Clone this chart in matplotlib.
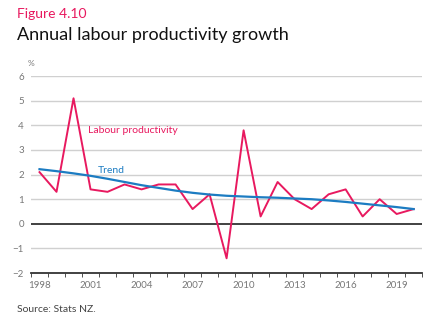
import matplotlib.pyplot as plt
import numpy as np

years = list(range(1998, 2021))
productivity = [2.1, 1.3, 5.1, 1.4, 1.3, 1.6, 1.4, 1.6, 1.6, 0.6, 1.2, -1.4,
                3.8, 0.3, 1.7, 1.0, 0.6, 1.2, 1.4, 0.3, 1.0, 0.4, 0.6]
trend = [2.22, 2.14, 2.05, 1.95, 1.83, 1.70, 1.57, 1.46, 1.35, 1.26, 1.19, 1.14,
         1.11, 1.08, 1.06, 1.03, 1.00, 0.95, 0.89, 0.82, 0.75, 0.68, 0.60]
label_years = [1998, 2001, 2004, 2007, 2010, 2013, 2016, 2019]

pink = "#E8195F"
blue = "#1C7CC2"
plt.rcParams['font.family'] = ['Lato', 'DejaVu Sans']

fig = plt.figure(figsize=(4.43, 3.31), dpi=100)
ax = fig.add_axes([0.070, 0.175, 0.883, 0.595])

ax.plot(years, productivity, color=pink, lw=1.4, zorder=3)
ax.plot(years, trend, color=blue, lw=1.6, zorder=4)

ax.set_xlim(1997.5, 2020.5)
ax.set_ylim(-2, 6)
ax.set_yticks(range(-2, 7))
for y in [-1, 1, 2, 3, 4, 5, 6]:
    ax.axhline(y, color="#d0d0d0", lw=1.0, zorder=1)
ax.axhline(0, color="#333333", lw=1.3, zorder=2)

for s in ["top", "right", "left"]:
    ax.spines[s].set_visible(False)
ax.spines["bottom"].set_color("#333333")
ax.spines["bottom"].set_linewidth(1.3)

ax.set_xticks(label_years)
ax.set_xticklabels([str(y) for y in label_years])
ax.set_xticks(np.arange(1997.5, 2021, 1), minor=True)
ax.tick_params(axis="x", which="major", length=0, labelsize=7, colors="#777777", pad=6)
ax.tick_params(axis="x", which="minor", length=3, color="#333333", direction="out")
ax.tick_params(axis="y", length=0, labelsize=7, colors="#777777", pad=5)

ax.text(2000.85, 3.8, "Labour productivity", color=pink, fontsize=7.5, va="center", ha="left")
ax.text(2001.45, 2.15, "Trend", color=blue, fontsize=7.5, va="center", ha="left")

fig.text(31 / 443, 1 - 63 / 331, "%", fontsize=6, color="#777777", ha="center", va="center")
fig.text(17 / 443, 1 - 14 / 331, "Figure 4.10", fontsize=10, color=pink, ha="left", va="center")
fig.text(17 / 443, 1 - 35 / 331, "Annual labour productivity growth", fontsize=13,
         color="#111111", ha="left", va="center")
fig.text(17 / 443, 1 - 310 / 331, "Source: Stats NZ.", fontsize=7.5, color="#444444",
         ha="left", va="center")

fig.savefig("out.png", dpi=100)
